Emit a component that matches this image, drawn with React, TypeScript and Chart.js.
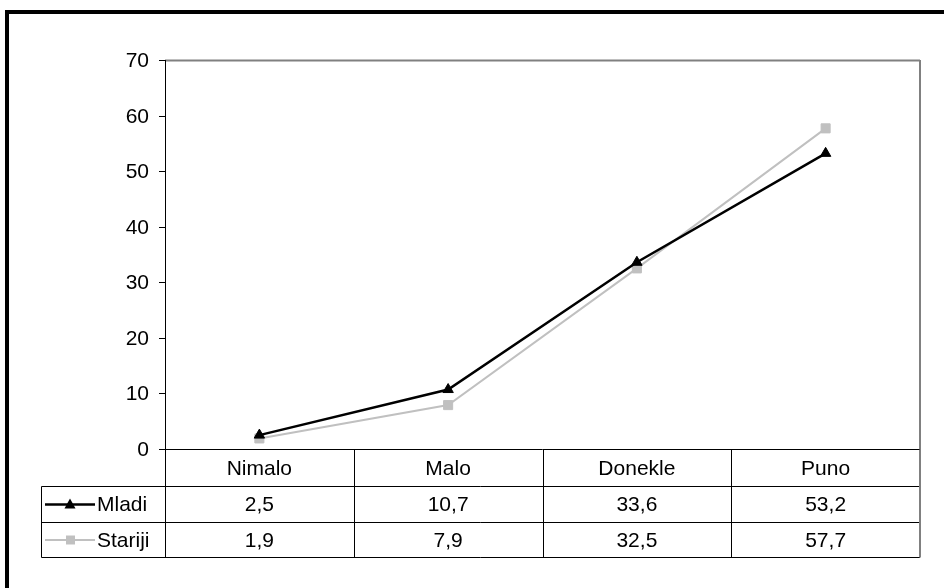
import React, { useEffect, useRef } from "react";
import { Chart, registerables } from "chart.js";

Chart.register(...registerables);

const categories = ["Nimalo", "Malo", "Donekle", "Puno"];
const mladi = [2.5, 10.7, 33.6, 53.2];
const stariji = [1.9, 7.9, 32.5, 57.7];
const seriesNames = ["Mladi", "Stariji"];
const yTicks = [0, 10, 20, 30, 40, 50, 60, 70];
const tableLabels = [
  ["2,5", "10,7", "33,6", "53,2"],
  ["1,9", "7,9", "32,5", "57,7"],
];

const FONT = '"Liberation Sans", Arial, sans-serif';
const FONT_SIZE = 21;
const STRETCH = 1.0;

function drawText(ctx: CanvasRenderingContext2D, text: string, x: number, y: number, align: CanvasTextAlign) {
  ctx.save();
  ctx.translate(x, y);
  ctx.scale(STRETCH, 1);
  ctx.textAlign = align;
  ctx.textBaseline = "middle";
  ctx.fillStyle = "#000";
  ctx.font = `${FONT_SIZE}px ${FONT}`;
  ctx.fillText(text, 0, 0);
  ctx.restore();
}

function line(ctx: CanvasRenderingContext2D, x1: number, y1: number, x2: number, y2: number, color: string, w: number) {
  ctx.save();
  ctx.strokeStyle = color;
  ctx.lineWidth = w;
  ctx.beginPath();
  ctx.moveTo(x1, y1);
  ctx.lineTo(x2, y2);
  ctx.stroke();
  ctx.restore();
}

const framePlugin = {
  id: "frame",
  beforeDatasetsDraw(chart: any) {
    const ctx: CanvasRenderingContext2D = chart.ctx;
    const { left, right, top, bottom } = chart.chartArea;
    const y = chart.scales.y;
    // outer border (left + top visible)
    ctx.save();
    ctx.fillStyle = "#000";
    ctx.fillRect(5, 10, 4, chart.height - 10);
    ctx.fillRect(5, 10, chart.width - 5, 4);
    ctx.restore();
    // plot frame
    line(ctx, left, top + 0.5, right, top + 0.5, "#808080", 2);
    line(ctx, right, top, right, bottom + 108, "#808080", 2);
    line(ctx, left + 0.5, top, left + 0.5, bottom, "#000", 1);
    yTicks.forEach((v) => {
      const py = Math.round(y.getPixelForValue(v)) + 0.5;
      line(ctx, left - 6, py, left, py, "#000", 1);
      drawText(ctx, String(v), left - 16, py + 1, "right");
    });
  },
  afterDraw(chart: any) {
    const ctx: CanvasRenderingContext2D = chart.ctx;
    const { left, right, bottom } = chart.chartArea;
    const x = chart.scales.x;
    const rowH = 36;
    const tableLeft = 41.5;
    const r0 = bottom + 0.5;
    const r1 = r0 + rowH + 1;
    const r2 = r1 + rowH;
    const r3 = r2 + 35;
    // horizontal lines
    line(ctx, left, r0, right, r0, "#000", 1);
    line(ctx, tableLeft, r1, right, r1, "#000", 1);
    line(ctx, tableLeft, r2, right, r2, "#000", 1);
    line(ctx, tableLeft, r3, right, r3, "#000", 1);
    // vertical lines
    line(ctx, tableLeft, r1, tableLeft, r3, "#000", 1);
    const catW = (right - left) / categories.length;
    for (let i = 0; i < categories.length; i++) {
      const cx = x.getPixelForValue(i);
      const xl = Math.round(cx - catW / 2) + 0.5;
      line(ctx, xl, r0, xl, r3, "#000", 1);
      drawText(ctx, categories[i], cx, (r0 + r1) / 2 + 1, "center");
      drawText(ctx, tableLabels[0][i], cx, (r1 + r2) / 2 + 1, "center");
      drawText(ctx, tableLabels[1][i], cx, (r2 + r3) / 2 + 1, "center");
    }
    line(ctx, right, r0, right, r3, "#808080", 2);
    // legend keys
    const keys = [
      { name: seriesNames[0], color: "#000", w: 2.5, style: "triangle", cy: (r1 + r2) / 2 },
      { name: seriesNames[1], color: "#c0c0c0", w: 2, style: "rect", cy: (r2 + r3) / 2 },
    ];
    keys.forEach((k) => {
      line(ctx, 45, k.cy, 95, k.cy, k.color, k.w);
      ctx.save();
      ctx.fillStyle = k.color;
      ctx.beginPath();
      if (k.style === "triangle") {
        ctx.moveTo(70, k.cy - 6);
        ctx.lineTo(75.5, k.cy + 4);
        ctx.lineTo(64.5, k.cy + 4);
        ctx.closePath();
      } else {
        ctx.rect(66, k.cy - 4.5, 9, 9);
      }
      ctx.fill();
      ctx.restore();
      drawText(ctx, k.name, 97, k.cy + 1, "left");
    });
  },
};

export default function App() {
  const ref = useRef<HTMLCanvasElement>(null);
  useEffect(() => {
    if (!ref.current) return;
    const chart = new Chart(ref.current, {
      type: "line",
      data: {
        labels: categories,
        datasets: [
          {
            label: seriesNames[0],
            data: mladi,
            borderColor: "#000",
            backgroundColor: "#000",
            borderWidth: 2.5,
            pointStyle: "triangle",
            pointRadius: 6,
            pointBorderWidth: 1,
            tension: 0,
          },
          {
            label: seriesNames[1],
            data: stariji,
            borderColor: "#c0c0c0",
            backgroundColor: "#c0c0c0",
            borderWidth: 2,
            pointStyle: "rect",
            pointRadius: 6.4,
            pointBorderWidth: 1,
            tension: 0,
          },
        ],
      },
      options: {
        animation: false,
        responsive: false,
        devicePixelRatio: 1,
        layout: { padding: { left: 165, top: 60, right: 24, bottom: 139 } },
        scales: {
          x: { type: "category", offset: true, display: false },
          y: { min: 0, max: 70, display: false },
        },
        plugins: { legend: { display: false }, tooltip: { enabled: false } },
      },
      plugins: [framePlugin],
    });
    return () => chart.destroy();
  }, []);
  return (
    <div style={{ position: "absolute", left: 0, top: 0, width: 944, height: 588, background: "#fff" }}>
      <canvas ref={ref} width={944} height={588} style={{ width: 944, height: 588, display: "block" }} />
    </div>
  );
}
